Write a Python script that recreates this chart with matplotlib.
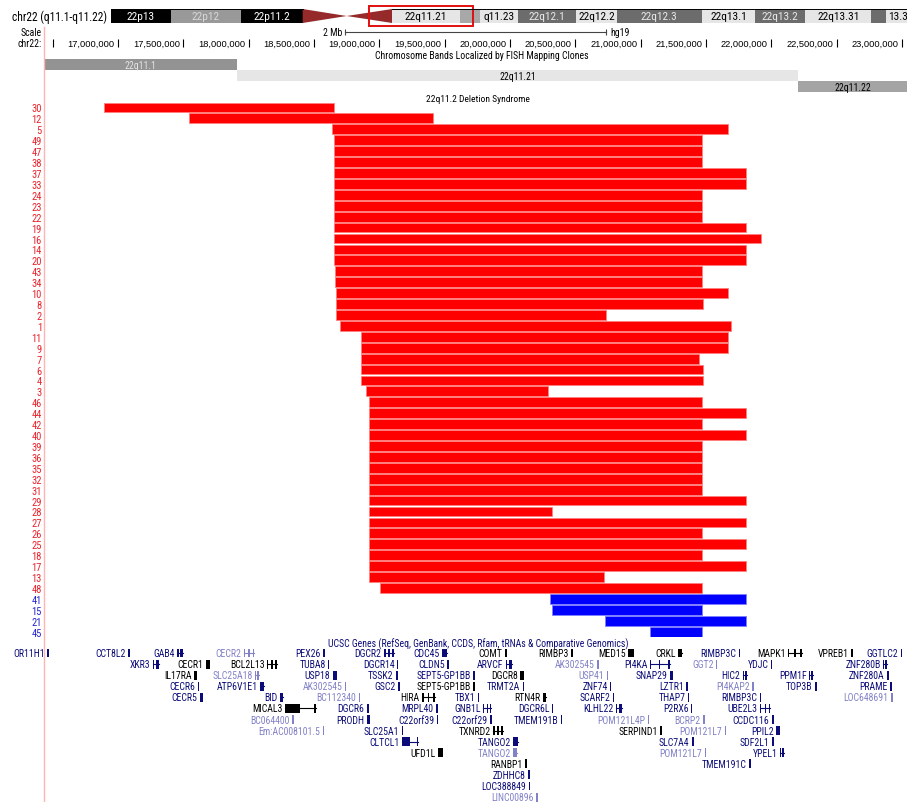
import matplotlib
matplotlib.use("Agg")
import matplotlib.pyplot as plt
from matplotlib.patches import Rectangle, Polygon
from matplotlib.lines import Line2D
from matplotlib import font_manager

# ---------------- data ----------------
chrom_label = "chr22 (q11.1-q11.22)"
assembly = "hg19"
view_start, view_end = 16.434, 23.038          # displayed window, Mb

# ideogram of chr22 (Mb)
ideo_labels = ["22p13", "22p12", "22p11.2", "", "", "22q11.21", "", "q11.23", "22q12.1",
               "22q12.2", "22q12.3", "22q13.1", "22q13.2", "22q13.31", "", "13.3"]
ideo_starts = [0.0, 3.8, 8.3, 12.2, 15.0, 17.9, 22.2, 23.5, 25.9, 29.6, 32.2, 37.6, 41.0, 44.2, 48.4, 49.3]
ideo_ends = [3.8, 8.3, 12.2, 15.0, 17.9, 22.2, 23.5, 25.9, 29.6, 32.2, 37.6, 41.0, 44.2, 48.4, 49.3, 51.3]
ideo_stains = ["gvar", "stalk", "gvar", "acenL", "acenR", "gneg", "gpos25", "gneg", "gpos50",
               "gneg", "gpos50", "gneg", "gpos50", "gneg", "gpos50", "gneg"]

# ruler
ruler_ticks = [16.5, 17.0, 17.5, 18.0, 18.5, 19.0, 19.5, 20.0, 20.5, 21.0, 21.5, 22.0, 22.5, 23.0]
scale_bar_mb = 2

# FISH-localized bands
fish_names = ["22q11.1", "22q11.21", "22q11.22"]
fish_starts = [16.2, 17.911, 22.204]
fish_ends = [17.911, 22.204, 23.5]

# 22q11.2 deletions (Mb)
sample_ids = [30, 12, 5, 49, 47, 38, 37, 33, 24, 23, 22, 19, 16, 14, 20, 43, 34, 10, 8, 2, 1, 11, 9, 7, 6,
              4, 3, 46, 44, 42, 40, 39, 36, 35, 32, 31, 29, 28, 27, 26, 25, 18, 17, 13, 48, 41, 15, 21, 45]
del_starts = [16.893, 17.543, 18.638, 18.653, 18.653, 18.653, 18.653, 18.653, 18.653, 18.653, 18.653,
              18.653, 18.653, 18.653, 18.653, 18.661, 18.661, 18.668, 18.668, 18.668, 18.699, 18.860,
              18.860, 18.860, 18.860, 18.860, 18.898, 18.921, 18.921, 18.921, 18.921, 18.921, 18.921,
              18.921, 18.921, 18.921, 18.921, 18.921, 18.921, 18.921, 18.921, 18.921, 18.921, 18.921,
              19.005, 20.306, 20.321, 20.727, 21.071]
del_ends = [18.653, 19.411, 21.668, 21.469, 21.469, 21.469, 21.806, 21.806, 21.469, 21.469, 21.469,
            21.806, 21.921, 21.806, 21.806, 21.469, 21.469, 21.668, 21.475, 20.735, 21.691, 21.668,
            21.668, 21.446, 21.477, 21.477, 20.291, 21.469, 21.806, 21.469, 21.806, 21.469, 21.469,
            21.469, 21.469, 21.469, 21.806, 20.321, 21.806, 21.469, 21.806, 21.469, 21.806, 20.719,
            21.469, 21.806, 21.469, 21.806, 21.469]
del_groups = ["r"] * 45 + ["b"] * 4

# UCSC genes
gene_names = [
    "OR11H1", "CCT8L2", "GAB4", "CECR2", "PEX26", "DGCR2", "CDC45", "COMT", "RIMBP3", "MED15", "CRKL",
    "RIMBP3C", "MAPK1", "VPREB1", "GGTLC2",
    "XKR3", "CECR1", "BCL2L13", "TUBA8", "DGCR14", "CLDN5", "ARVCF", "AK302545", "PI4KA", "GGT2", "YDJC",
    "ZNF280B",
    "IL17RA", "SLC25A18", "USP18", "TSSK2", "SEPT5-GP1BB", "DGCR8", "USP41", "SNAP29", "HIC2", "PPM1F",
    "ZNF280A",
    "CECR6", "ATP6V1E1", "AK302545", "GSC2", "SEPT5-GP1BB", "TRMT2A", "ZNF74", "LZTR1", "PI4KAP2", "TOP3B",
    "PRAME",
    "CECR5", "BID", "BC112340", "HIRA", "TBX1", "RTN4R", "SCARF2", "THAP7", "RIMBP3C", "LOC648691",
    "MICAL3", "DGCR6", "MRPL40", "GNB1L", "DGCR6L", "KLHL22", "P2RX6", "UBE2L3",
    "BC064400", "PRODH", "C22orf39", "C22orf29", "TMEM191B", "POM121L4P", "BCRP2", "CCDC116",
    "Em:AC008101.5", "SLC25A1", "TXNRD2", "SERPIND1", "POM121L7", "PPIL2",
    "CLTCL1", "TANGO2", "SLC7A4", "SDF2L1",
    "UFD1L", "TANGO2", "POM121L7", "YPEL1",
    "RANBP1", "TMEM191C",
    "ZDHHC8",
    "LOC388849",
    "LINC00896"]
gene_rows = [0] * 15 + [1] * 12 + [2] * 11 + [3] * 11 + [4] * 10 + [5] * 8 + [6] * 8 + [7] * 6 + \
            [8] * 4 + [9] * 4 + [10] * 2 + [11] + [12] + [13]
gene_starts = [
    16.457, 17.077, 17.452, 17.964, 18.569, 19.036, 19.480, 19.962, 20.467, 20.903, 21.286, 21.752, 22.127,
    22.610, 22.992,
    17.268, 17.673, 18.140, 18.607, 19.135, 19.518, 19.969, 20.666, 21.071, 21.576, 21.997, 22.854,
    17.582, 18.048, 18.645, 19.128, 19.717, 20.077, 20.742, 21.224, 21.783, 22.288, 22.885,
    17.612, 18.087, 18.737, 19.143, 19.717, 20.099, 20.765, 21.347, 21.852, 22.334, 22.908,
    17.628, 18.240, 18.844, 19.327, 19.755, 20.253, 20.788, 21.362, 21.913, 22.916,
    18.278, 18.906, 19.434, 19.793, 20.321, 20.811, 21.385, 21.913,
    18.332, 18.906, 19.441, 19.847, 20.390, 21.056, 21.477, 22.005,
    18.569, 19.173, 19.870, 21.148, 21.645, 22.036,
    19.173, 20.023, 21.393, 22.005,
    19.449, 20.023, 21.492, 22.066,
    20.115, 21.829,
    20.138,
    20.145,
    20.199]
gene_ends = [
    16.457, 17.077, 17.497, 18.041, 18.584, 19.112, 19.518, 19.969, 20.467, 20.949, 21.316, 21.752, 22.234,
    22.610, 22.992,
    17.314, 17.704, 18.217, 18.614, 19.143, 19.518, 20.015, 20.666, 21.224, 21.576, 21.997, 22.885,
    17.605, 18.079, 18.676, 19.128, 19.717, 20.107, 20.742, 21.247, 21.814, 22.319, 22.885,
    17.612, 18.117, 18.737, 19.143, 19.717, 20.099, 20.772, 21.362, 21.852, 22.349, 22.916,
    17.650, 18.263, 18.844, 19.426, 19.763, 20.276, 20.796, 21.362, 21.913, 22.916,
    18.515, 18.906, 19.434, 19.855, 20.321, 20.857, 21.393, 21.990,
    18.332, 18.929, 19.441, 19.847, 20.390, 21.056, 21.485, 22.005,
    18.569, 19.173, 19.946, 21.156, 21.645, 22.066,
    19.296, 20.061, 21.393, 22.005,
    19.487, 20.053, 21.492, 22.097,
    20.115, 21.829,
    20.138,
    20.145,
    20.199]
gene_classes = [  # n = RefSeq (navy), k = reviewed (black), l = non-RefSeq (light)
    "n", "n", "n", "l", "n", "n", "n", "k", "k", "k", "k", "n", "k", "k", "n",
    "n", "k", "k", "n", "n", "n", "n", "l", "n", "l", "n", "n",
    "k", "l", "n", "n", "n", "k", "l", "n", "n", "n", "n",
    "n", "n", "l", "n", "k", "n", "n", "n", "l", "n", "n",
    "n", "n", "l", "k", "n", "k", "n", "n", "n", "l",
    "k", "n", "n", "n", "n", "n", "n", "n",
    "l", "n", "n", "n", "n", "l", "l", "n",
    "l", "n", "k", "k", "l", "n",
    "n", "n", "n", "n",
    "k", "l", "l", "n",
    "k", "n",
    "n",
    "n",
    "l"]
gene_shapes = [
    "b", "b", "h", "h", "b", "h", "h", "b", "b", "b", "h", "b", "h", "b", "b",
    "h", "b", "h", "b", "b", "b", "h", "b", "h", "b", "b", "h",
    "b", "h", "b", "b", "b", "b", "b", "b", "h", "h", "b",
    "b", "h", "b", "b", "b", "b", "b", "b", "b", "b", "b",
    "b", "h", "b", "h", "b", "h", "b", "b", "b", "b",
    "L", "b", "b", "h", "b", "h", "b", "h",
    "b", "b", "b", "b", "b", "b", "b", "b",
    "b", "b", "h", "b", "b", "b",
    "L", "h", "b", "b",
    "b", "h", "b", "h",
    "b", "b",
    "b",
    "b",
    "b"]

# ---------------- font: prefer a condensed sans ----------------
def pick_condensed():
    pref = ["LiberationSansNarrow-Regular", "RobotoCondensed-Regular", "DejaVuSansCondensed.",
            "OpenSans_Condensed-Regular", "OpenSansCondensed", "Roboto_Condensed-Regular"]
    fl = font_manager.fontManager.ttflist
    for p in pref:
        for f in fl:
            if p.lower() in f.fname.replace(" ", "").lower():
                return f
    for f in fl:
        if f.stretch in ("condensed", "semi-condensed") and f.style == "normal" and \
                f.weight in (400, "normal", "regular"):
            return f
    return None


cf = pick_condensed()
if cf is not None:
    plt.rcParams["font.family"] = [cf.name, "DejaVu Sans"]
    plt.rcParams["font.stretch"] = cf.stretch
    SCALE = 1.0
else:
    plt.rcParams["font.family"] = ["Liberation Sans", "DejaVu Sans"]
    SCALE = 0.86

W, H = 907, 803
fig = plt.figure(figsize=(W / 100, H / 100), dpi=100)
fig.patch.set_facecolor("white")
FS = 7.0 * SCALE
NAVY, LIGHT, BLACK = "#0c0c78", "#8282c8", "#000000"
GCOL = {"n": NAVY, "k": BLACK, "l": LIGHT}
X0 = 44  # left pixel of data area
RULER_FONT = dict(family=["Liberation Sans", "DejaVu Sans"], stretch="normal")


def box(x0, y0, x1, y1):
    return [x0 / W, 1 - y1 / H, (x1 - x0) / W, (y1 - y0) / H]


def ftext(x, y, s, **kw):
    kw.setdefault("fontsize", FS)
    kw.setdefault("va", "center")
    return fig.text(x / W, 1 - y / H, s, **kw)


def blank(ax):
    ax.set_xticks([])
    ax.set_yticks([])
    for sp in ax.spines.values():
        sp.set_visible(False)
    ax.patch.set_alpha(0)


# ---------------- ideogram ----------------
ax_i = fig.add_axes(box(111, 10, 907, 24))
blank(ax_i)
ideo_px_per_mb = 15.71
ax_i.set_xlim(0, (907 - 111) / ideo_px_per_mb)
ax_i.set_ylim(0, 1)
stain_col = {"gvar": "#000000", "stalk": "#999999", "gneg": "#e6e6e6", "gpos25": "#a8a8a8",
             "gpos50": "#6c6c6c", "acenL": "#962a2a", "acenR": "#962a2a"}
stain_txt = {"gvar": "white", "stalk": "#d8d8d8", "gneg": "black", "gpos25": "black",
             "gpos50": "#e8e8e8"}
for lab, s, e, st in zip(ideo_labels, ideo_starts, ideo_ends, ideo_stains):
    if st == "acenL":
        ax_i.add_patch(Polygon([[s, 0], [s, 1], [e, 0.5]], closed=True, color=stain_col[st], lw=0))
        continue
    if st == "acenR":
        ax_i.add_patch(Polygon([[s, 0.5], [e, 1], [e, 0]], closed=True, color=stain_col[st], lw=0))
        continue
    ax_i.add_patch(Rectangle((s, 0), e - s, 1, facecolor=stain_col[st], edgecolor="none"))
    ax_i.plot([s, e], [0.02, 0.02], color="black", lw=0.7)
    ax_i.plot([s, e], [0.98, 0.98], color="black", lw=0.7)
    if lab:
        if e > ax_i.get_xlim()[1]:
            ax_i.annotate(lab, (s, 0.5), xytext=(1.5, 0), textcoords="offset points", ha="left",
                          va="center", fontsize=8.2 * SCALE, color=stain_txt[st])
        else:
            ax_i.text((s + e) / 2, 0.5, lab, ha="center", va="center", fontsize=8.2 * SCALE,
                      color=stain_txt[st])
ax_i.add_patch(Rectangle((view_start, -0.2), view_end - view_start, 1.4, fill=False,
                         edgecolor="#e01010", lw=1.4, clip_on=False))
ftext(12, 17.5, chrom_label, fontsize=8.3 * SCALE, ha="left")

# ---------------- ruler ----------------
ax_r = fig.add_axes(box(X0, 28, 907, 50))
blank(ax_r)
ax_r.set_xlim(view_start, view_end)
ax_r.set_ylim(50, 28)
mid = (view_start + view_end) / 2
ax_r.plot([mid - scale_bar_mb / 2, mid + scale_bar_mb / 2], [33, 33], color="#444444", lw=0.8)
ax_r.vlines([mid - scale_bar_mb / 2, mid + scale_bar_mb / 2], 30, 36, color="#444444", lw=0.8)
ax_r.annotate(f"{scale_bar_mb} Mb", (mid - scale_bar_mb / 2, 33), xytext=(-1.5, 0),
              textcoords="offset points", ha="right", va="center", fontsize=FS)
ax_r.annotate(assembly, (mid + scale_bar_mb / 2, 32.5), xytext=(3, 0),
              textcoords="offset points", ha="left", va="center", fontsize=FS)
ax_r.vlines(ruler_ticks, 40, 48, color="black", lw=0.8)
for v in ruler_ticks:
    if v >= 17.0:
        ax_r.annotate(f"{v * 1e6:,.0f}", (v, 44.5), xytext=(-2.5, 0), textcoords="offset points",
                      ha="right", va="center", fontsize=6.7, **RULER_FONT)
ftext(42, 33, "Scale", ha="right")
ftext(42, 44, "chr22:", ha="right")

# ---------------- FISH bands ----------------
ftext(482, 56, "Chromosome Bands Localized by FISH Mapping Clones", ha="center")
ax_f = fig.add_axes(box(X0, 60, 907, 93))
blank(ax_f)
ax_f.set_xlim(view_start, view_end)
ax_f.set_ylim(2.5, -0.5)
fish_fill = ["#939393", "#e6e6e6", "#a4a4a4"]
fish_txt = ["#e4e4e4", "black", "black"]
for i, (nm, s, e) in enumerate(zip(fish_names, fish_starts, fish_ends)):
    ax_f.barh(i, e - s, left=s, height=0.98, color=fish_fill[i], lw=0)
    cx = (max(s, view_start) + min(e, view_end)) / 2
    ax_f.text(cx, i + 0.05, nm, ha="center", va="center", fontsize=FS, color=fish_txt[i])

# ---------------- deletions ----------------
ftext(478, 99.5, "22q11.2 Deletion Syndrome", ha="center", fontsize=6.8 * SCALE)
n = len(sample_ids)
ax_d = fig.add_axes(box(X0, 103, 907, 103 + n * 10.92))
ax_d.set_xlim(view_start, view_end)
ax_d.set_ylim(n - 0.5, -0.5)
del_fill = {"r": "#ff0000", "b": "#0000ff"}
del_edge = {"r": "#ff8080", "b": "#8080ff"}
del_lab = {"r": "#e8242c", "b": "#2424d0"}
ax_d.barh(range(n), [e - s for s, e in zip(del_starts, del_ends)], left=del_starts, height=0.9,
          color=[del_fill[g] for g in del_groups], edgecolor=[del_edge[g] for g in del_groups],
          lw=0.6)
ax_d.set_yticks(range(n))
ax_d.set_yticklabels([str(s) for s in sample_ids])
for lbl, g in zip(ax_d.get_yticklabels(), del_groups):
    lbl.set_color(del_lab[g])
ax_d.tick_params(axis="y", length=0, pad=1.5, labelsize=7.6 * SCALE)
ax_d.set_xticks([])
for sp in ax_d.spines.values():
    sp.set_visible(False)
ax_d.patch.set_alpha(0)

# ---------------- genes ----------------
ftext(478, 644, "UCSC Genes (RefSeq, GenBank, CCDS, Rfam, tRNAs & Comparative Genomics)",
      ha="center", color=NAVY)
nrow = max(gene_rows) + 1
ax_g = fig.add_axes(box(X0, 648.5, 907, 648.5 + nrow * 11.08))
blank(ax_g)
ax_g.set_xlim(view_start, view_end)
ax_g.set_ylim(nrow - 0.5, -0.5)
mpp = (view_end - view_start) / (907 - X0)   # Mb per pixel
GH = 0.8
for nm, r, s, e, c, sh in zip(gene_names, gene_rows, gene_starts, gene_ends, gene_classes, gene_shapes):
    col = GCOL[c]
    if sh == "b":
        ax_g.add_patch(Rectangle((s, r - GH / 2), max(e - s, 1.5 * mpp), GH, color=col, lw=0))
    else:
        ax_g.plot([s, e], [r, r], color=col, lw=0.8)
        exw = 1.5 * mpp
        if sh == "L":
            ax_g.add_patch(Rectangle((s, r - GH / 2), (e - s) * 0.5, GH, color=col, lw=0))
        else:
            ax_g.add_patch(Rectangle((s, r - GH / 2), exw, GH, color=col, lw=0))
            ax_g.add_patch(Rectangle((s + (e - s) * 0.45, r - GH / 2), exw, GH, color=col, lw=0))
        ax_g.add_patch(Rectangle((e - exw, r - GH / 2), exw, GH, color=col, lw=0))
    ax_g.annotate(nm, (s, r), xytext=(-1.8, 0), textcoords="offset points", ha="right",
                  va="center", fontsize=FS, color=col, annotation_clip=False)

# pink guide line
fig.add_artist(Line2D([X0 / W, X0 / W], [1 - 28 / H, 0], color="#ffb4b4", lw=1))

fig.savefig("out.png", dpi=100, facecolor="white")
